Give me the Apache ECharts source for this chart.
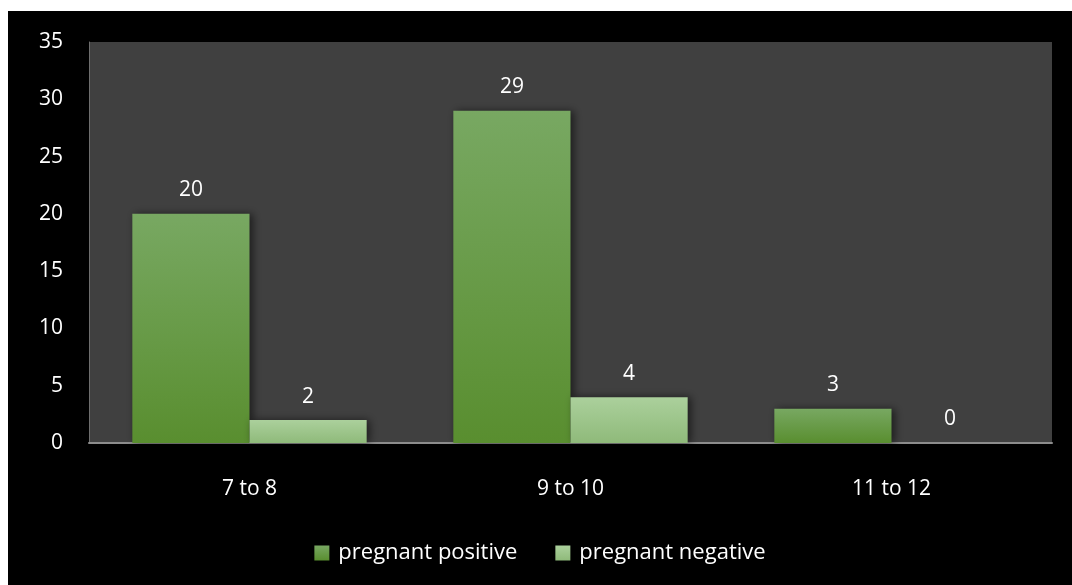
<!DOCTYPE html>
<html>
<head>
<meta charset="utf-8">
<script src="https://cdn.jsdelivr.net/npm/echarts@6/dist/echarts.min.js"></script>
<style>
  html, body { margin: 0; padding: 0; background: #fff; }
  #chart { position: absolute; left: 8px; top: 11px; width: 1064px; height: 574px; background: #000; }
</style>
</head>
<body>
<div id="chart"></div>
<script>
var categories = ['7 to 8', '9 to 10', '11 to 12'];
var positive = [20, 29, 3];
var negative = [2, 4, 0];
var seriesNames = ['pregnant positive', 'pregnant negative'];

var chart = echarts.init(document.getElementById('chart'));
var font = '"Open Sans", sans-serif';
var fs = 21;

function grad(top, bottom) {
  return new echarts.graphic.LinearGradient(0, 0, 0, 1, [
    { offset: 0, color: top },
    { offset: 1, color: bottom }
  ]);
}

var label = {
  show: true,
  position: 'top',
  distance: 13,
  color: '#fff',
  fontSize: fs,
  fontFamily: font
};

var option = {
  backgroundColor: '#000',
  animation: false,
  grid: {
    left: 81,
    right: 20,
    top: 31,
    bottom: 142,
    show: true,
    backgroundColor: '#404040',
    borderWidth: 0
  },
  legend: {
    bottom: 16,
    left: 'center',
    itemWidth: 15,
    itemHeight: 15,
    itemGap: 38,
    icon: 'rect',
    textStyle: { color: '#fff', fontSize: 22, fontFamily: font, padding: [0, 0, 0, 4] },
    data: seriesNames
  },
  xAxis: {
    type: 'category',
    data: categories,
    axisLine: { lineStyle: { color: '#8c8c8c', width: 2 } },
    axisTick: { show: false },
    axisLabel: { color: '#fff', fontSize: fs, fontFamily: font, margin: 36 }
  },
  yAxis: {
    type: 'value',
    min: 0,
    max: 35,
    interval: 5,
    axisLine: { show: true, lineStyle: { color: '#6e6e6e', width: 1 } },
    axisTick: { show: false },
    splitLine: { show: false },
    axisLabel: { color: '#fff', fontSize: fs, fontFamily: font, margin: 26 }
  },
  series: [
    {
      name: seriesNames[0],
      type: 'bar',
      data: positive,
      barGap: '0%',
      barCategoryGap: '27%',
      label: label,
      itemStyle: {
        color: grad('#78a862', '#598e2f'),
        shadowColor: 'rgba(0,0,0,0.55)',
        shadowBlur: 8,
        shadowOffsetX: 3
      }
    },
    {
      name: seriesNames[1],
      type: 'bar',
      data: negative,
      label: label,
      itemStyle: {
        color: grad('#abd09c', '#8fba7a'),
        shadowColor: 'rgba(0,0,0,0.55)',
        shadowBlur: 8,
        shadowOffsetX: 3
      }
    }
  ]
};

chart.setOption(option);
</script>
</body>
</html>
